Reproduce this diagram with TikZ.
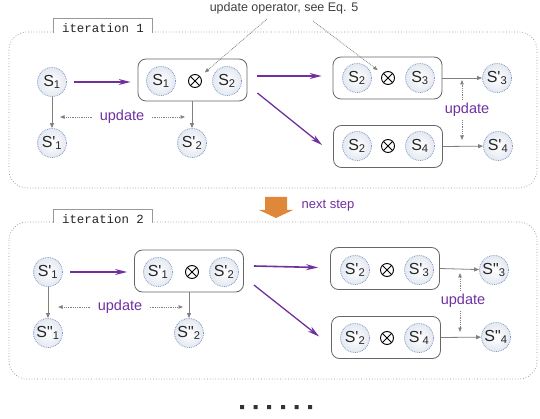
\documentclass[tikz,border=0pt]{standalone}
\usepackage{fontspec}
\setmainfont{Liberation Sans}
\setmonofont{Liberation Mono}
\usetikzlibrary{arrows.meta,calc}

\definecolor{mauve}{HTML}{7030A0}
\definecolor{orangepas}{HTML}{E0883A}
\definecolor{bleupoint}{HTML}{7F98C8}
\definecolor{grisfond}{HTML}{E4E9F1}

\tikzset{
	etat/.style={circle,minimum size=29pt,inner sep=0pt,draw=bleupoint,densely dotted,line width=0.8pt,inner color=white,outer color=grisfond,font=\fontsize{16}{16}\selectfont,text=black!85},
	croix/.style={circle,draw=black,line width=0.9pt,minimum size=13pt,inner sep=0pt,path picture={\draw[line width=0.9pt] (path picture bounding box.south west) -- (path picture bounding box.north east) (path picture bounding box.north west) -- (path picture bounding box.south east) ;}},
	boite/.style={draw=black!60,line width=0.8pt,rounded corners=8pt,fill=white,minimum width=109pt,minimum height=42pt,inner sep=0pt},
	fleche/.style={mauve,line width=1.6pt,-{Stealth[length=12pt,width=6pt]}},
	trait/.style={black!50,line width=0.8pt,-{Triangle[length=5pt,width=4pt]}},
	pointille/.style={black!50,densely dotted,line width=0.8pt,-{Triangle[length=4.5pt,width=3.5pt]}},
	cadre/.style={black!45,dotted,line width=0.7pt,rounded corners=18pt},
	onglet/.style={black!40,line width=0.6pt,fill=white},
	titre/.style={font=\ttfamily\fontsize{12.4}{12}\selectfont,text=black!85},
	maj/.style={mauve,font=\fontsize{14.5}{14}\selectfont},
}

\newcommand{\pr}{\textquotesingle}
\newcommand{\pp}{\textquotedbl}

\begin{document}
\begin{tikzpicture}[x=1pt,y=-1pt]
	\useasboundingbox (0,0) rectangle (540,419) ;
	% note en haut
	\node[text=black!75,font=\fontsize{12.5}{12}\selectfont] (note) at (284,8) {update operator, see Eq. 5} ;
	\coordinate (note1) at (267,19) ;
	\coordinate (note2) at (313,21) ;
	% iteration 1
	\draw[cadre] (9,32) rectangle (537,188) ;
	\draw[onglet] (53,33) -- (53,18) -- (152,18) -- (152,33) ;
	\node[titre] (it1) at (103,28) {iteration 1} ;
	\node[etat] (a1) at (52,82) {S\textsubscript{1}} ;
	\node[etat] (a1p) at (52,143) {S\pr\textsubscript{1}} ;
	\node[boite] (b1) at (192.5,80) {} ;
	\node[etat] (b1g) at (161,81) {S\textsubscript{1}} ;
	\node[croix] (b1x) at (195,81) {} ;
	\node[etat] (b1d) at (227,81) {S\textsubscript{2}} ;
	\node[etat] (a2p) at (192,143) {S\pr\textsubscript{2}} ;
	\node[boite] (b2) at (387.5,78) {} ;
	\node[etat] (b2g) at (357,78) {S\textsubscript{2}} ;
	\node[croix] (b2x) at (388,78) {} ;
	\node[etat] (b2d) at (420,78) {S\textsubscript{3}} ;
	\node[etat] (a3p) at (497,78) {S\pr\textsubscript{3}} ;
	\node[boite] (b3) at (388,146.5) {} ;
	\node[etat] (b3g) at (357,146) {S\textsubscript{2}} ;
	\node[croix] (b3x) at (388,146) {} ;
	\node[etat] (b3d) at (420,146) {S\textsubscript{4}} ;
	\node[etat] (a4p) at (498,146) {S\pr\textsubscript{4}} ;
	\draw[fleche,shorten <=7pt,shorten >=7pt] (a1.east) -- (a1.east -| b1.west) ;
	\draw[fleche] ($(b1.east)+(10,-4)$) -- ($(b2.west)+(-11,-2)$) ;
	\draw[fleche,line width=1.3pt] ($(b1.east)+(10,13)$) -- ($(b3.west)+(-11,-1.5)$) ;
	\draw[trait] (a1) -- (a1p) ;
	\draw[trait] (b1.south -| a2p) -- (a2p) ;
	\draw[trait] (b2.east) -- (a3p) ;
	\draw[trait] (b3.east) -- (a4p) ;
	\draw[pointille,shorten >=6pt] (note1) -- (b1x) ;
	\draw[pointille,shorten >=6pt] (note2) -- (b2x) ;
	\node[maj] (maj1) at (122,117) {update} ;
	\coordinate (g1) at (60,117) ;
	\coordinate (d1) at (185,117) ;
	\draw[pointille,shorten <=4pt] (maj1.west) -- (g1) ;
	\draw[pointille,shorten <=4pt] (maj1.east) -- (d1) ;
	\node[maj] (maj2) at (467,110) {update} ;
	\coordinate (h1) at (462,80) ;
	\coordinate (h2) at (462,140) ;
	\draw[pointille] (maj2.north -| h1) -- (h1) ;
	\draw[pointille] (maj2.south -| h2) -- (h2) ;
	% etape suivante
	\fill[orangepas] (265,197) -- (287,197) -- (287,210) -- (293,210) -- (276,218) -- (259,210) -- (265,210) -- cycle ;
	\node[mauve,font=\fontsize{13}{13}\selectfont] (suite) at (328,206) {next step} ;
	% iteration 2
	\draw[cadre] (9,222) rectangle (537,379) ;
	\draw[onglet] (53,223) -- (53,209) -- (152,209) -- (152,223) ;
	\node[titre] (it2) at (103,219) {iteration 2} ;
	\node[etat] (c1) at (48,272) {S\pr\textsubscript{1}} ;
	\node[etat] (c1p) at (48,333) {S\pp\textsubscript{1}} ;
	\node[boite] (d1) at (189,271) {} ;
	\node[etat] (d1g) at (158,272) {S\pr\textsubscript{1}} ;
	\node[croix] (d1x) at (192,272) {} ;
	\node[etat] (d1d) at (224,272) {S\pr\textsubscript{2}} ;
	\node[etat] (c2p) at (189,333) {S\pp\textsubscript{2}} ;
	\node[boite] (d2) at (385,268.5) {} ;
	\node[etat] (d2g) at (355,270) {S\pr\textsubscript{2}} ;
	\node[croix] (d2x) at (387,270) {} ;
	\node[etat] (d2d) at (419,270) {S\pr\textsubscript{3}} ;
	\node[etat] (c3p) at (494,270) {S\pp\textsubscript{3}} ;
	\node[boite] (d3) at (386,337.5) {} ;
	\node[etat] (d3g) at (355,338) {S\pr\textsubscript{2}} ;
	\node[croix] (d3x) at (387,338) {} ;
	\node[etat] (d3d) at (419,338) {S\pr\textsubscript{4}} ;
	\node[etat] (c4p) at (496,337) {S\pp\textsubscript{4}} ;
	\draw[fleche,shorten <=7pt,shorten >=7pt] (c1.east) -- (c1.east -| d1.west) ;
	\draw[fleche] ($(d1.east)+(10,-5)$) -- ($(d2.west)+(-12,-1)$) ;
	\draw[fleche,line width=1.3pt] ($(d1.east)+(10,14)$) -- ($(d3.west)+(-12,-1)$) ;
	\draw[trait] (c1) -- (c1p) ;
	\draw[trait] (d1.south -| c2p) -- (c2p) ;
	\draw[trait] (d2.east) -- (c3p) ;
	\draw[trait] (d3.east) -- (c4p) ;
	\node[maj] (maj3) at (120,307) {update} ;
	\coordinate (g2) at (58,307) ;
	\coordinate (d2r) at (183,307) ;
	\draw[pointille,shorten <=4pt] (maj3.west) -- (g2) ;
	\draw[pointille,shorten <=4pt] (maj3.east) -- (d2r) ;
	\node[maj] (maj4) at (463,301) {update} ;
	\coordinate (h3) at (460,273) ;
	\coordinate (h4) at (460,332) ;
	\draw[pointille] (maj4.north -| h3) -- (h3) ;
	\draw[pointille] (maj4.south -| h4) -- (h4) ;
	% suite
	\fill[black!80] (240,405) rectangle ++(4,4) (253.5,405) rectangle ++(4,4) (267,405) rectangle ++(4,4) (281,405) rectangle ++(4,4) (294.5,405) rectangle ++(4,4) (308,405) rectangle ++(4,4) ;
\end{tikzpicture}
\end{document}
